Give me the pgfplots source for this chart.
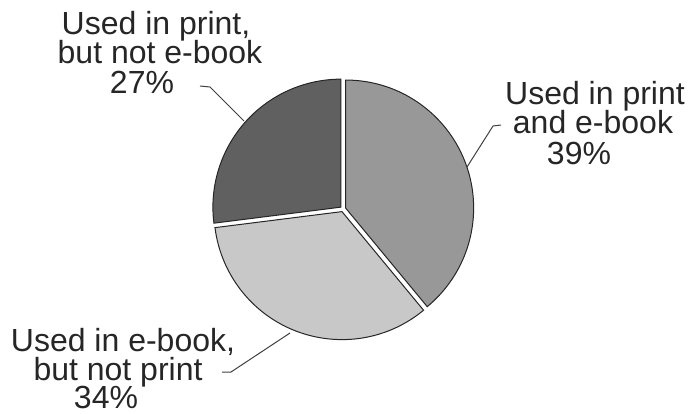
\documentclass[border=0pt]{standalone}
\usepackage{pgfplots}
\pgfplotsset{compat=1.18}
\usepackage{pgfplotstable}
\usetikzlibrary{calc}
\usepackage{fontspec}
\setmainfont{Liberation Sans}

\definecolor{sliceA}{HTML}{989898}
\definecolor{sliceB}{HTML}{C8C8C8}
\definecolor{sliceC}{HTML}{606060}
\definecolor{leader}{HTML}{404040}

% share of titles (percent), clockwise from the top
\pgfplotstableread{
pct
39
34
27
}\piedata

\pgfplotstablegetelem{0}{pct}\of\piedata \let\pA\pgfplotsretval
\pgfplotstablegetelem{1}{pct}\of\piedata \let\pB\pgfplotsretval
\pgfplotstablegetelem{2}{pct}\of\piedata \let\pC\pgfplotsretval

\pgfmathsetmacro\aA{90}
\pgfmathsetmacro\aB{\aA-3.6*\pA}
\pgfmathsetmacro\aC{\aB-3.6*\pB}
\pgfmathsetmacro\aD{\aC-3.6*\pC}
\pgfmathsetmacro\mA{(\aA+\aB)/2}
\pgfmathsetmacro\mB{(\aB+\aC)/2}
\pgfmathsetmacro\mC{(\aC+\aD)/2}

\newcommand\rad{64pt}
\newcommand\gap{1.4pt}

\begin{document}
\begin{tikzpicture}
\begin{axis}[
    hide axis,
    scale only axis,
    width=344.5pt, height=206.5pt,
    xmin=0, xmax=689, ymin=0, ymax=413,
    clip=false,
  ]
  \coordinate (bl) at (axis cs:0,0);
  \coordinate (tr) at (axis cs:689,413);
  % slices
  \draw[fill=sliceA, draw=black!85, line width=0.5pt]
    ($(axis cs:343,204)+(\mA:\gap)$) -- ++(\aA:\rad)
    arc[start angle=\aA, end angle=\aB, radius=\rad] -- cycle;
  \draw[fill=sliceB, draw=black!85, line width=0.5pt]
    ($(axis cs:343,204)+(\mB:\gap)$) -- ++(\aB:\rad)
    arc[start angle=\aB, end angle=\aC, radius=\rad] -- cycle;
  \draw[fill=sliceC, draw=black!85, line width=0.5pt]
    ($(axis cs:343,204)+(\mC:\gap)$) -- ++(\aC:\rad)
    arc[start angle=\aC, end angle=\aD, radius=\rad] -- cycle;
  % leader lines
  \draw[leader, line width=0.5pt] (axis cs:200,327) -- (axis cs:210,326) -- (axis cs:244,292);
  \draw[leader, line width=0.5pt] (axis cs:501,288) -- (axis cs:493,287) -- (axis cs:467,246);
  \draw[leader, line width=0.5pt] (axis cs:222,41) -- (axis cs:231,41) -- (axis cs:290,80);
  % labels
  \begin{scope}[every node/.style={anchor=base, inner sep=0pt, font=\fontsize{16}{19}\selectfont, text=black!85}]
    \node at (axis cs:156,378) {Used in print,};
    \node at (axis cs:160,349) {but not e-book};
    \node at (axis cs:142,319) {27\%};
    \node at (axis cs:595,308) {Used in print};
    \node at (axis cs:593,279) {and e-book};
    \node at (axis cs:579,249) {39\%};
    \node at (axis cs:123,62) {Used in e-book,};
    \node at (axis cs:118,33) {but not print};
    \node at (axis cs:106,5) {34\%};
  \end{scope}
\end{axis}
\pgfresetboundingbox
\path (bl) rectangle (tr);
\end{tikzpicture}
\end{document}
